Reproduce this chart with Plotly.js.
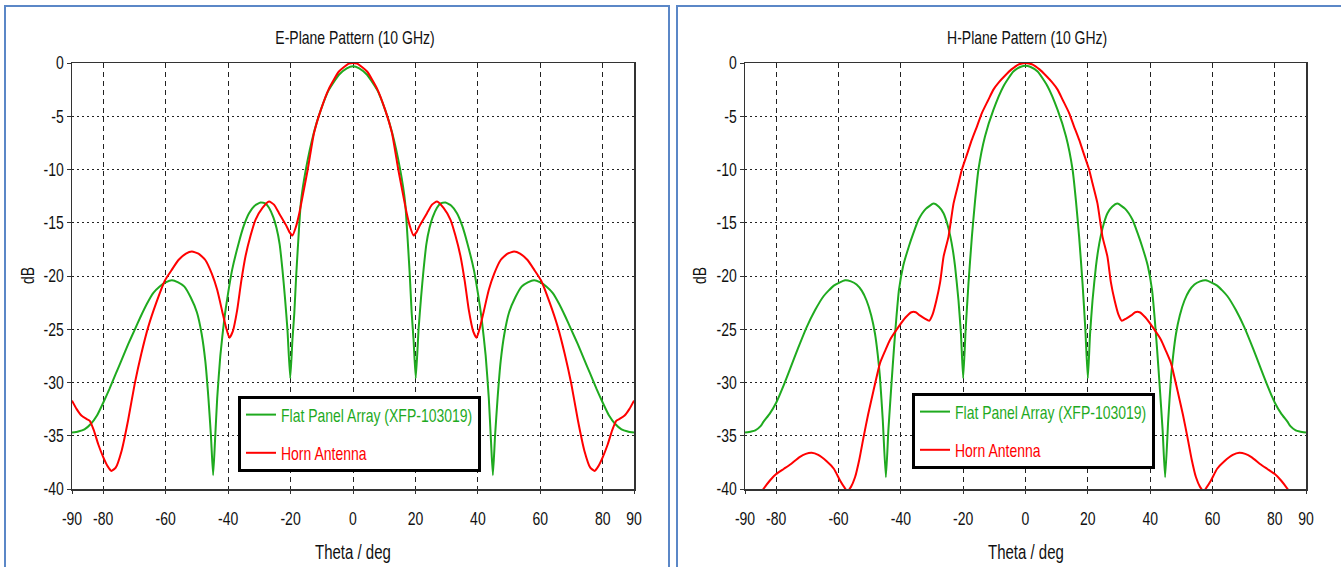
<!DOCTYPE html>
<html>
<head>
<meta charset="utf-8">
<script src="https://cdn.plot.ly/plotly-3.0.1.min.js"></script>
<style>
html,body{margin:0;padding:0;background:#fff;}
#chart{width:1341px;height:567px;}
</style>
</head>
<body>
<div id="chart"></div>
<script>
// ---------- Data ----------
const seriesNames = ['Flat Panel Array (XFP-103019)', 'Horn Antenna'];
const panelTitles = ['E-Plane Pattern (10 GHz)', 'H-Plane Pattern (10 GHz)'];
const xAxisTitle = 'Theta / deg';
const yAxisTitle = 'dB';
const xTickVals = [-90, -80, -60, -40, -20, 0, 20, 40, 60, 80, 90];
const xTickText = ['-90', '-80', '-60', '-40', '-20', '0', '20', '40', '60', '80', '90'];
const yTickVals = [0, -5, -10, -15, -20, -25, -30, -35, -40];
const yTickText = ['0', '-5', '-10', '-15', '-20', '-25', '-30', '-35', '-40'];

// E-plane, flat panel array
const thetaEFlat = [-90,-88,-86,-84,-82,-80,-78,-76,-74,-72,-70,-68,-66,-64,-62,-60,-58,-56,-54,-52,-50,-48.5,-47.3,-46.3,-45.5,-44.8,-44.2,-43.5,-42.5,-41.2,-40,-38.7,-36.6,-35,-33.3,-31.5,-29.6,-28,-26.9,-25.5,-24.5,-23.5,-22.6,-21.8,-21,-20.1,-19.4,-18.8,-18.2,-17.7,-16.7,-15.1,-12.5,-10.3,-7.7,-4.5,-2,0,
  2,4.5,7.7,10.3,12.5,15.1,16.7,17.7,18.2,18.8,19.4,20.1,21,21.8,22.6,23.5,24.5,25.5,26.9,28,29.6,31.5,33.3,35,36.6,38.7,40,41.2,42.5,43.5,44.2,44.8,45.5,46.3,47.3,48.5,50,52,54,56,58,60,62,64,66,68,70,72,74,76,78,80,82,84,86,88,90];
const dbEFlat = [-34.7,-34.6,-34.4,-33.9,-33.1,-31.9,-30.6,-29.2,-27.8,-26.4,-25.1,-23.8,-22.6,-21.6,-21.0,-20.6,-20.4,-20.6,-21.0,-22.0,-23.4,-25.4,-28.0,-31.5,-35.0,-38.7,-35.5,-31.5,-27.5,-24.0,-21.6,-19.4,-16.9,-15.3,-14.1,-13.4,-13.1,-13.2,-13.6,-14.5,-15.5,-17.0,-19.4,-22.0,-25.0,-29.6,-26.0,-23.5,-20.0,-17.5,-13.1,-10.0,-6.5,-4.4,-2.5,-1.1,-0.5,-0.3,
  -0.5,-1.1,-2.5,-4.4,-6.5,-10.0,-13.1,-17.5,-20.0,-23.5,-26.0,-29.6,-25.0,-22.0,-19.4,-17.0,-15.5,-14.5,-13.6,-13.2,-13.1,-13.4,-14.1,-15.3,-16.9,-19.4,-21.6,-24.0,-27.5,-31.5,-35.5,-38.7,-35.0,-31.5,-28.0,-25.4,-23.4,-22.0,-21.0,-20.6,-20.4,-20.6,-21.0,-21.6,-22.6,-23.8,-25.1,-26.4,-27.8,-29.2,-30.6,-31.9,-33.1,-33.9,-34.4,-34.6,-34.7];

// E-plane, horn antenna
const thetaEHorn = [-90,-88.5,-87,-85.5,-84.3,-83,-81.6,-80,-78.5,-77.4,-76,-74.1,-72,-69.9,-67.8,-65.6,-63,-60.2,-58,-55.9,-53.5,-51.6,-49.5,-47.3,-45.2,-43.5,-41.9,-40.6,-39.6,-38.5,-37.1,-35.8,-34.4,-32.8,-31.2,-29,-26.9,-25.3,-23.7,-21.5,-20.3,-19.4,-18.3,-17.2,-15.8,-14.5,-12.5,-10.3,-7.7,-4.5,-1.3,0,
  1.3,4.5,7.7,10.3,12.5,14.5,15.8,17.2,18.3,19.4,20.3,21.5,23.7,25.3,26.9,29,31.2,32.8,34.4,35.8,37.1,38.5,39.6,40.6,41.9,43.5,45.2,47.3,49.5,51.6,53.5,55.9,58,60.2,63,65.6,67.8,69.9,72,74.1,76,77.4,78.5,80,81.6,83,84.3,85.5,87,88.5,90];
const dbEHorn = [-31.7,-32.5,-33.1,-33.4,-33.6,-34.5,-35.8,-37.0,-37.9,-38.3,-38.0,-36.4,-33.5,-30.1,-27.3,-24.8,-22.5,-20.4,-19.4,-18.5,-17.9,-17.7,-17.9,-18.5,-19.8,-21.3,-23.3,-24.9,-25.8,-25.2,-23.2,-20.5,-18.1,-16.2,-14.7,-13.6,-13.0,-13.3,-14.1,-15.2,-15.9,-16.2,-15.4,-14.1,-12.0,-10.0,-6.6,-4.4,-2.4,-0.8,-0.05,0,
  -0.05,-0.8,-2.4,-4.4,-6.6,-10.0,-12.0,-14.1,-15.4,-16.2,-15.9,-15.2,-14.1,-13.3,-13.0,-13.6,-14.7,-16.2,-18.1,-20.5,-23.2,-25.2,-25.8,-24.9,-23.3,-21.3,-19.8,-18.5,-17.9,-17.7,-17.9,-18.5,-19.4,-20.4,-22.5,-24.8,-27.3,-30.1,-33.5,-36.4,-38.0,-38.3,-37.9,-37.0,-35.8,-34.5,-33.6,-33.4,-33.1,-32.5,-31.7];

// H-plane, flat panel array
const thetaHFlat = [-90,-88,-86.7,-85,-84.1,-82,-80,-77.5,-75.5,-73,-70.2,-67.5,-64.8,-61.5,-57.9,-56,-54.2,-52.5,-51,-49.5,-48.3,-47.4,-46.7,-45.8,-44.8,-44,-43,-42.2,-41.4,-40.6,-39.2,-37.4,-36,-34.3,-32,-29.5,-27.8,-26.3,-25.2,-24.1,-23.3,-22.6,-21.5,-20.7,-20,-19.2,-18.3,-17.2,-16.2,-15.1,-13,-10.3,-7.1,-3.9,-1.5,0,
  1.5,3.9,7.1,10.3,13,15.1,16.2,17.2,18.3,19.2,20,20.7,21.5,22.6,23.3,24.1,25.2,26.3,27.8,29.5,32,34.3,36,37.4,39.2,40.6,41.4,42.2,43,44,44.8,45.8,46.7,47.4,48.3,49.5,51,52.5,54.2,56,57.9,61.5,64.8,67.5,70.2,73,75.5,77.5,80,82,84.1,85,86.7,88,90];
const dbHFlat = [-34.7,-34.6,-34.5,-34.1,-33.7,-32.9,-31.9,-30.2,-28.7,-26.8,-24.8,-23.2,-21.9,-20.9,-20.4,-20.5,-20.8,-21.4,-22.3,-23.7,-25.4,-27.4,-29.5,-33.5,-38.9,-34.5,-30.1,-26.8,-23.8,-21.3,-19.0,-17.2,-16.0,-14.7,-13.7,-13.2,-13.5,-14.1,-15.0,-16.3,-17.6,-19.1,-22.3,-25.5,-29.6,-25.0,-20.7,-16.3,-13.0,-10.0,-6.9,-4.4,-2.2,-0.8,-0.35,-0.25,
  -0.35,-0.8,-2.2,-4.4,-6.9,-10.0,-13.0,-16.3,-20.7,-25.0,-29.6,-25.5,-22.3,-19.1,-17.6,-16.3,-15.0,-14.1,-13.5,-13.2,-13.7,-14.7,-16.0,-17.2,-19.0,-21.3,-23.8,-26.8,-30.1,-34.5,-38.9,-33.5,-29.5,-27.4,-25.4,-23.7,-22.3,-21.4,-20.8,-20.5,-20.4,-20.9,-21.9,-23.2,-24.8,-26.8,-28.7,-30.2,-31.9,-32.9,-33.7,-34.1,-34.5,-34.6,-34.7];

// H-plane, horn antenna (values below -40 dB fall outside the axis)
const thetaHHorn = [-90,-87,-84.1,-82,-80,-77.5,-75.5,-72.5,-70.5,-68.6,-66.5,-63.8,-61.5,-59.5,-58,-57.2,-56,-54.7,-53.3,-52,-50.5,-48.8,-46.7,-45,-43.5,-40.8,-38.5,-36.6,-35.2,-33.9,-32.3,-30.9,-29.8,-28.6,-27.4,-26.3,-24.7,-23.1,-21.5,-20.4,-18.8,-17.2,-15.5,-14,-12,-10.3,-8.5,-6.6,-4.5,-2.3,0,
  2.3,4.5,6.6,8.5,10.3,12,14,15.5,17.2,18.8,20.4,21.5,23.1,24.7,26.3,27.4,28.6,29.8,30.9,32.3,33.9,35.2,36.6,38.5,40.8,43.5,45,46.7,48.8,50.5,52,53.3,54.7,56,57.2,58,59.5,61.5,63.8,66.5,68.6,70.5,72.5,75.5,77.5,80,82,84.1,87,90];
const dbHHorn = [-42.5,-41.3,-40.0,-39.2,-38.6,-38.1,-37.7,-37.0,-36.7,-36.6,-36.8,-37.4,-38.1,-39.2,-39.9,-40.2,-39.8,-38.9,-37.2,-35.2,-33.0,-30.8,-28.2,-27.0,-26.0,-24.8,-23.9,-23.4,-23.4,-23.7,-24.0,-24.2,-23.6,-22.3,-20.6,-18.2,-16.3,-13.2,-11.3,-10.0,-8.6,-7.2,-5.9,-4.7,-3.5,-2.5,-1.8,-1.2,-0.6,-0.15,0,
  -0.15,-0.6,-1.2,-1.8,-2.5,-3.5,-4.7,-5.9,-7.2,-8.6,-10.0,-11.3,-13.2,-16.3,-18.2,-20.6,-22.3,-23.6,-24.2,-24.0,-23.7,-23.4,-23.4,-23.9,-24.8,-26.0,-27.0,-28.2,-30.8,-33.0,-35.2,-37.2,-38.9,-39.8,-40.2,-39.9,-39.2,-38.1,-37.4,-36.8,-36.6,-36.7,-37.0,-37.7,-38.1,-38.6,-39.2,-40.0,-41.3,-42.5];

// ---------- Styling ----------
const W = 1341, H = 567;
const FONT = "'Liberation Sans', Arial, sans-serif";
const GREEN = '#1faa1f', RED = '#ff0000';
const TXT = '#111';
const TEXT_STRETCH = 1.3;   // the reference lettering is tall and narrow
const px = v => v / W, py = v => 1 - v / H;

function trace(x, y, name, color, xa, ya, leg, group) {
  return {
    x: x, y: y, type: 'scatter', mode: 'lines', xaxis: xa, yaxis: ya,
    name: '<span style="color:' + color + '">' + name + '</span>',
    legend: leg, legendgroup: group,
    line: {color: color, width: 2, shape: 'spline', smoothing: 0.5},
    hoverinfo: 'x+y'
  };
}

const data = [
  trace(thetaEFlat, dbEFlat, seriesNames[0], GREEN, 'x', 'y', 'legend', 'a1'),
  trace(thetaEHorn, dbEHorn, seriesNames[1], RED, 'x', 'y', 'legend', 'a2'),
  trace(thetaHFlat, dbHFlat, seriesNames[0], GREEN, 'x2', 'y2', 'legend2', 'b1'),
  trace(thetaHHorn, dbHHorn, seriesNames[1], RED, 'x2', 'y2', 'legend2', 'b2')
];

function xAxis(domain, anchor) {
  return {
    domain: domain, anchor: anchor, range: [-90, 90],
    tickmode: 'array', tickvals: xTickVals, ticktext: xTickText,
    showgrid: true, gridcolor: '#222', gridwidth: 1, griddash: '5px,4px',
    zeroline: false, showline: true, linecolor: '#333', linewidth: 1.5, mirror: true,
    ticks: 'outside', ticklen: 3, tickcolor: '#333', ticklabelstandoff: 13,
    tickfont: {family: FONT, size: 14, color: TXT},
    fixedrange: true
  };
}
function yAxis(domain, anchor) {
  return {
    domain: domain, anchor: anchor, range: [-40, 0],
    tickmode: 'array', tickvals: yTickVals, ticktext: yTickText,
    showgrid: true, gridcolor: '#222', gridwidth: 1, griddash: '2px,3px',
    zeroline: false, showline: true, linecolor: '#333', linewidth: 1.5, mirror: true,
    ticks: 'outside', ticklen: 4, tickcolor: '#333',
    tickfont: {family: FONT, size: 14, color: TXT},
    fixedrange: true
  };
}
function legendAt(x, y) {
  return {
    x: px(x), y: py(y), xanchor: 'left', yanchor: 'top',
    bgcolor: '#fff', bordercolor: '#000', borderwidth: 3,
    font: {family: FONT, size: 14},
    traceorder: 'grouped', tracegroupgap: 17, itemwidth: 30
  };
}
function note(text, x, y, size, angle) {
  return {text: text, xref: 'paper', yref: 'paper', x: px(x), y: py(y),
          xanchor: 'center', yanchor: 'middle', showarrow: false, textangle: angle || 0,
          font: {family: FONT, size: size, color: TXT}};
}

const yDom = [py(489), py(63)];
const layout = {
  width: W, height: H,
  margin: {l: 0, r: 0, t: 0, b: 0},
  paper_bgcolor: '#fff', plot_bgcolor: '#fff',
  font: {family: FONT, color: TXT},
  showlegend: true,
  title: {text: panelTitles[0], x: px(355), xanchor: 'center', y: py(38), yanchor: 'middle',
          font: {family: FONT, size: 14, color: TXT}},
  xaxis: xAxis([px(72), px(634)], 'y'),
  yaxis: yAxis(yDom, 'x'),
  xaxis2: xAxis([px(745), px(1306)], 'y2'),
  yaxis2: yAxis(yDom, 'x2'),
  legend: legendAt(238, 396),
  legend2: legendAt(912, 393),
  annotations: [
    note(panelTitles[1], 1027, 38, 14),
    note(xAxisTitle, 353, 551, 15),
    note(xAxisTitle, 1026, 551, 15),
    note(yAxisTitle, 28, 276, 14, -90),
    note(yAxisTitle, 700, 276, 14, -90)
  ],
  shapes: [
    {type: 'rect', xref: 'paper', yref: 'paper', x0: px(5), x1: px(669), y0: -0.05, y1: py(6),
     line: {color: '#5b87c7', width: 2}, fillcolor: 'rgba(0,0,0,0)', layer: 'below'},
    {type: 'rect', xref: 'paper', yref: 'paper', x0: px(677), x1: 1.02, y0: -0.05, y1: py(6),
     line: {color: '#5b87c7', width: 2}, fillcolor: 'rgba(0,0,0,0)', layer: 'below'}
  ]
};

Plotly.newPlot('chart', data, layout, {displayModeBar: false, staticPlot: true}).then(function (gd) {
  // stretch every label vertically about its own centre, like the tall reference lettering
  gd.querySelectorAll('svg text').forEach(function (t) {
    let b;
    try { b = t.getBBox(); } catch (e) { return; }
    if (!b || !b.height) return;
    const cy = b.y + b.height / 2;
    const tr = t.getAttribute('transform') || '';
    t.setAttribute('transform', tr + ' translate(0,' + cy + ') scale(1,' + TEXT_STRETCH + ') translate(0,' + (-cy) + ')');
  });
});
</script>
</body>
</html>
